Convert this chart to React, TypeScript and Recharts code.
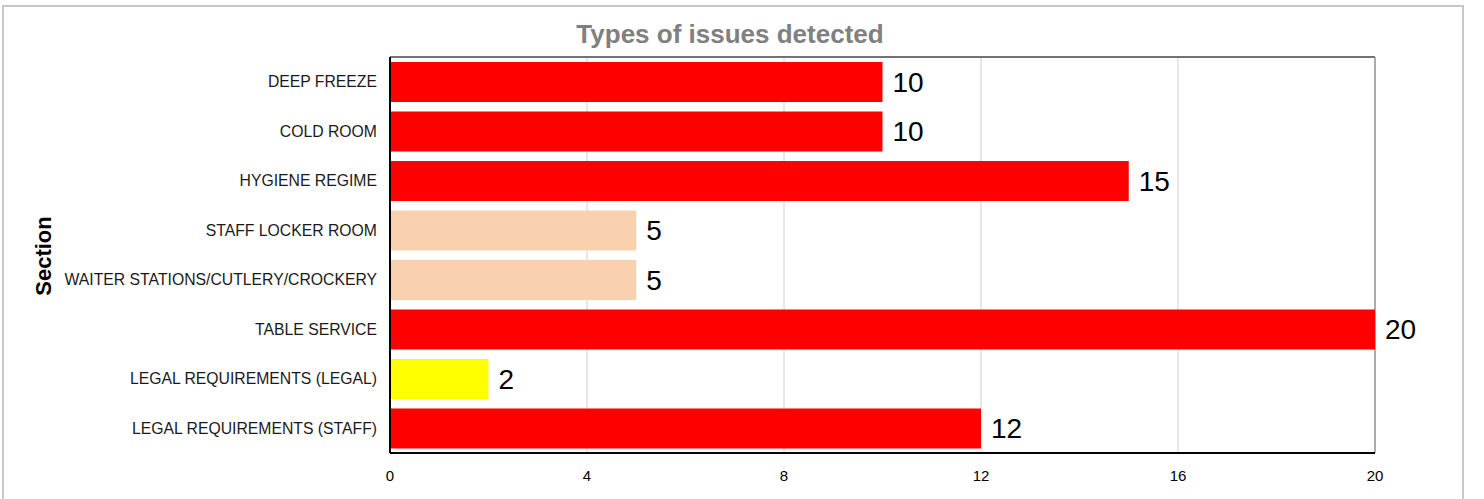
import {
  BarChart,
  Bar,
  XAxis,
  YAxis,
  CartesianGrid,
  Cell,
  LabelList,
} from 'recharts';

const sections = [
  'DEEP FREEZE',
  'COLD ROOM',
  'HYGIENE REGIME',
  'STAFF LOCKER ROOM',
  'WAITER STATIONS/CUTLERY/CROCKERY',
  'TABLE SERVICE',
  'LEGAL REQUIREMENTS (LEGAL)',
  'LEGAL REQUIREMENTS (STAFF)',
];
const issueCounts = [10, 10, 15, 5, 5, 20, 2, 12];
const severity = ['high', 'high', 'high', 'medium', 'medium', 'high', 'low', 'high'];
const xTicks = [0, 4, 8, 12, 16, 20];

const severityColor: Record<string, string> = {
  high: '#ff0000',
  medium: '#fad1ae',
  low: '#ffff00',
};

const FONT = '"Liberation Sans", Arial, sans-serif';

// frame lines along the top and right edge of the plot area
const topEdge = ({ offset }: any) => [offset.top];
const rightEdge = ({ offset }: any) => [offset.left + offset.width];

export default function App() {
  const data = sections.map((name, i) => ({
    name,
    count: issueCounts[i],
    level: severity[i],
  }));

  return (
    <div
      style={{
        position: 'absolute',
        left: 0,
        top: 0,
        width: 1484,
        height: 499,
        overflow: 'hidden',
        background: '#fff',
        fontFamily: FONT,
      }}
    >
      {/* outer frame, bottom edge runs off the picture */}
      <div
        style={{
          position: 'absolute',
          left: 2,
          top: 5,
          width: 1462,
          height: 520,
          border: '2px solid #c8c8c8',
          boxSizing: 'border-box',
        }}
      />
      <div
        style={{
          position: 'absolute',
          left: 0,
          width: 1460,
          top: 19,
          textAlign: 'center',
          fontSize: 26,
          fontWeight: 'bold',
          color: '#808080',
        }}
      >
        Types of issues detected
      </div>
      <div
        style={{
          position: 'absolute',
          left: 44,
          top: 256,
          transform: 'translate(-50%, -50%) rotate(-90deg)',
          fontSize: 22,
          fontWeight: 'bold',
          color: '#000',
          whiteSpace: 'nowrap',
        }}
      >
        Section
      </div>
      <div style={{ position: 'absolute', left: 0, top: 0 }}>
        <BarChart
          width={1484}
          height={499}
          layout="vertical"
          data={data}
          margin={{ top: 57, right: 109, bottom: 16, left: 0 }}
          barSize={40}
        >
          <CartesianGrid horizontal={false} stroke="#d0d0d0" />
          <CartesianGrid
            vertical={false}
            horizontalCoordinatesGenerator={topEdge}
            stroke="#444"
            strokeWidth={1.5}
          />
          <CartesianGrid
            horizontal={false}
            verticalCoordinatesGenerator={rightEdge}
            stroke="#999"
            strokeWidth={1.5}
          />
          <XAxis
            type="number"
            domain={[0, 20]}
            ticks={xTicks}
            height={30}
            tickSize={0}
            tickMargin={17}
            tickLine={false}
            axisLine={{ stroke: '#000', strokeWidth: 2 }}
            tick={{ fontSize: 15, fill: '#000' }}
          />
          <YAxis
            type="category"
            dataKey="name"
            width={390}
            tickSize={0}
            tickMargin={13}
            tickLine={false}
            axisLine={{ stroke: '#000', strokeWidth: 2 }}
            tick={{ fontSize: 15.75, fill: '#1a1a1a' }}
            interval={0}
          />
          <Bar dataKey="count" isAnimationActive={false}>
            {data.map((d) => (
              <Cell key={d.name} fill={severityColor[d.level]} />
            ))}
            <LabelList
              dataKey="count"
              position="right"
              offset={10}
              style={{ fontSize: 28, fill: '#000' }}
            />
          </Bar>
        </BarChart>
      </div>
    </div>
  );
}
